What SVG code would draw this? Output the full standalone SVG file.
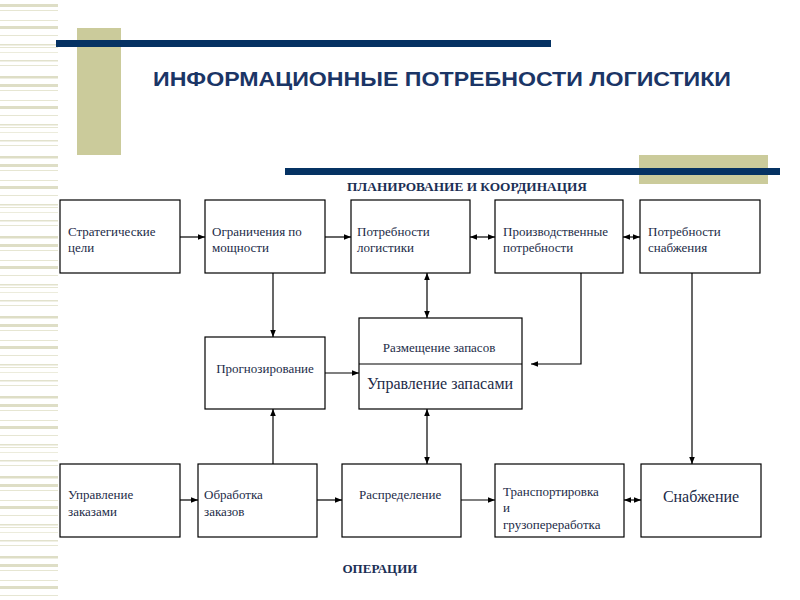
<svg xmlns="http://www.w3.org/2000/svg" width="800" height="600" viewBox="0 0 800 600">
<defs>
<pattern id="stripes" x="0" y="0" width="58" height="80" patternUnits="userSpaceOnUse">
<rect x="0" y="4" width="58" height="3" fill="#dedec6"/>
<rect x="0" y="10" width="58" height="1" fill="#e6e6d2"/>
<rect x="0" y="20" width="58" height="1" fill="#e6e6d2"/>
<rect x="0" y="26" width="58" height="3" fill="#dedec6"/>
<rect x="0" y="35" width="58" height="1" fill="#e6e6d2"/>
<rect x="0" y="44" width="58" height="1.5" fill="#e2e2cc"/>
<rect x="0" y="47" width="58" height="1" fill="#e6e6d2"/>
<rect x="0" y="52" width="58" height="1" fill="#ececdc"/>
<rect x="0" y="60" width="58" height="1.5" fill="#e2e2cc"/>
<rect x="0" y="65" width="58" height="1" fill="#e6e6d2"/>
<rect x="0" y="76" width="58" height="2.5" fill="#dedec6"/>
</pattern>
<marker id="ah" viewBox="0 0 10 10" refX="10" refY="5" markerWidth="7" markerHeight="7" markerUnits="userSpaceOnUse" orient="auto-start-reverse">
<path d="M0,1 L10,5 L0,9 z" fill="#000"/>
</marker>
</defs>
<style>
.box{fill:#fff;stroke:#000;stroke-width:1.2}
.t{font-family:"Liberation Serif",serif;font-size:13px;fill:#1c2b48}
.tb{font-family:"Liberation Serif",serif;font-size:16px;fill:#1c2b48}
.c{stroke:#000;stroke-width:1.2;fill:none}
.a{marker-end:url(#ah)}
.d{marker-start:url(#ah);marker-end:url(#ah)}
.h{font-family:"Liberation Serif",serif;font-weight:bold;font-size:13px;fill:#1b2f55}
</style>
<rect x="0" y="0" width="800" height="600" fill="#fff"/>
<rect x="0" y="0" width="58" height="600" fill="url(#stripes)"/>
<rect x="77" y="28" width="44" height="127" fill="#cbcb9b"/>
<rect x="56" y="40" width="495" height="7" fill="#053263"/>
<text x="442" y="86" text-anchor="middle" font-family="'Liberation Sans',Arial,sans-serif" font-weight="bold" font-size="21" fill="#1b3566" textLength="578" lengthAdjust="spacingAndGlyphs">ИНФОРМАЦИОННЫЕ ПОТРЕБНОСТИ ЛОГИСТИКИ</text>
<rect x="639" y="155" width="129" height="29" fill="#cbcb9b"/>
<rect x="285" y="168" width="495" height="7" fill="#053263"/>
<text class="h" x="467" y="191" text-anchor="middle" textLength="240" lengthAdjust="spacingAndGlyphs">ПЛАНИРОВАНИЕ И КООРДИНАЦИЯ</text>
<text class="h" x="380" y="573" text-anchor="middle" textLength="75" lengthAdjust="spacingAndGlyphs">ОПЕРАЦИИ</text>

<g id="connectors">
<line class="c a" x1="180" y1="237" x2="205" y2="237"/>
<line class="c a" x1="325" y1="237" x2="351" y2="237"/>
<line class="c d" x1="470" y1="237" x2="495" y2="237"/>
<line class="c d" x1="623" y1="237" x2="640" y2="237"/>
<line class="c a" x1="273" y1="273" x2="273" y2="337"/>
<line class="c d" x1="427" y1="273" x2="427" y2="318"/>
<polyline class="c a" points="581,273 581,364 531,364"/>
<line class="c a" x1="325" y1="373" x2="359" y2="373"/>
<line class="c a" x1="273" y1="464" x2="273" y2="409"/>
<line class="c d" x1="427" y1="464" x2="427" y2="409"/>
<line class="c a" x1="692" y1="273" x2="692" y2="464"/>
<line class="c a" x1="180" y1="500" x2="198" y2="500"/>
<line class="c a" x1="317" y1="500" x2="342" y2="500"/>
<line class="c a" x1="461" y1="500" x2="495" y2="500"/>
<line class="c d" x1="624" y1="500" x2="641" y2="500"/>
</g>

<g id="n1"><rect class="box" x="60" y="200" width="120" height="73"/><text class="t" x="68" y="236">Стратегические</text><text class="t" x="68" y="252">цели</text></g>
<g id="n2"><rect class="box" x="205" y="200" width="120" height="73"/><text class="t" x="212" y="236">Ограничения по</text><text class="t" x="212" y="252">мощности</text></g>
<g id="n3"><rect class="box" x="351" y="200" width="119" height="73"/><text class="t" x="357" y="236">Потребности</text><text class="t" x="357" y="252">логистики</text></g>
<g id="n4"><rect class="box" x="495" y="200" width="128" height="73"/><text class="t" x="503" y="236">Производственные</text><text class="t" x="503" y="252">потребности</text></g>
<g id="n5"><rect class="box" x="640" y="200" width="120" height="73"/><text class="t" x="648" y="236">Потребности</text><text class="t" x="648" y="252">снабжения</text></g>
<g id="n6"><rect class="box" x="205" y="337" width="120" height="72"/><text class="t" x="265" y="373" text-anchor="middle">Прогнозирование</text></g>
<g id="n7"><rect class="box" x="359" y="318" width="163" height="91"/><line class="c" x1="359" y1="364" x2="522" y2="364"/><text class="t" x="439" y="352" text-anchor="middle">Размещение запасов</text><text class="tb" x="440" y="389" text-anchor="middle">Управление запасами</text></g>
<g id="n8"><rect class="box" x="60" y="464" width="120" height="73"/><text class="t" x="68" y="499">Управление</text><text class="t" x="68" y="516">заказами</text></g>
<g id="n9"><rect class="box" x="198" y="464" width="119" height="73"/><text class="t" x="204" y="499">Обработка</text><text class="t" x="204" y="516">заказов</text></g>
<g id="n10"><rect class="box" x="342" y="464" width="119" height="73"/><text class="t" x="359" y="499">Распределение</text></g>
<g id="n11"><rect class="box" x="495" y="464" width="129" height="73"/><text class="t" x="503" y="496">Транспортировка</text><text class="t" x="503" y="512">и</text><text class="t" x="503" y="529">грузопереработка</text></g>
<g id="n12"><rect class="box" x="641" y="464" width="120" height="73"/><text class="tb" x="701" y="502" text-anchor="middle">Снабжение</text></g>
</svg>
